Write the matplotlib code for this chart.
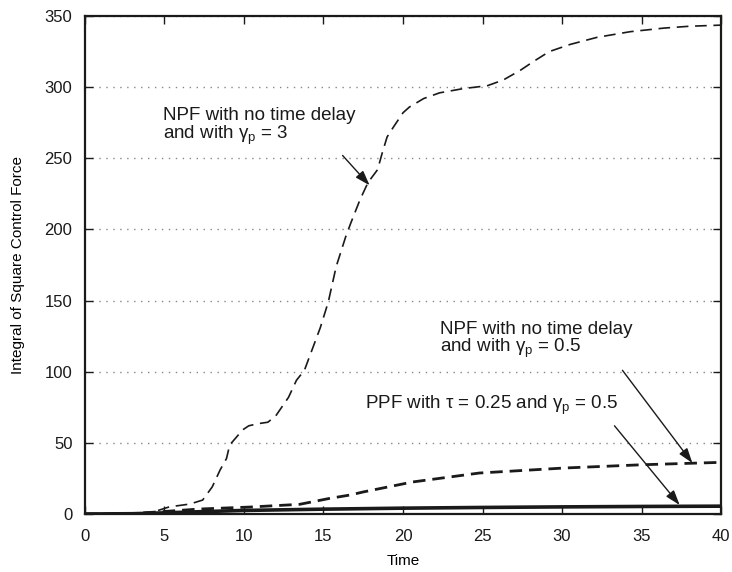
import numpy as np
import matplotlib
matplotlib.use('Agg')
import matplotlib.pyplot as plt

plt.rcParams['font.family'] = ['Liberation Sans', 'DejaVu Sans']
plt.rcParams['mathtext.fontset'] = 'custom'
plt.rcParams['mathtext.rm'] = 'Liberation Sans'
plt.rcParams['mathtext.it'] = 'Liberation Sans'

# NPF, no time delay, gamma_p = 3 (thin dashed)
t_npf3 = [0, 2, 3, 4.3, 5.3, 6.6, 7.4, 8.0, 8.5, 8.9, 9.1, 9.6, 9.9, 10.3, 10.9, 11.5,
          12.0, 12.8, 13.3, 13.8, 14.8, 15.3, 15.8, 16.4, 16.7, 17.3, 17.8, 18.4, 18.7,
          19.0, 19.4, 20.0, 20.4, 21.3, 22.3, 23.8, 25.3, 26.3, 27.4, 28.2, 29.2, 30.5,
          32.2, 34.3, 36.4, 38.0, 40.0]
v_npf3 = [0, 0, 0.2, 1.4, 5.0, 7.0, 9.8, 19, 31, 39, 48.5, 55, 59, 62, 63.5, 64.5,
          69, 82, 94, 101, 131, 149, 174, 195, 204, 221, 233, 242, 254,
          265, 272, 282, 286, 292, 296, 299, 301, 305, 312, 318, 325, 330,
          335, 339, 341.5, 342.8, 343.6]

# NPF, no time delay, gamma_p = 0.5 (thick dashed)
t_npf05 = [0, 2, 3, 4.5, 7.2, 10.4, 13.5, 15.4, 16.7, 17.5, 20.6, 24.8, 30.1, 35.0, 40.0]
v_npf05 = [0, 0, 0.3, 1.4, 3.5, 4.9, 6.8, 11.0, 13.4, 15.5, 22.5, 28.8, 32.3, 34.6, 36.3]

# PPF, tau = 0.25, gamma_p = 0.5 (solid)
t_ppf = [0, 3, 5, 7.5, 10, 15, 20, 25, 30, 35, 40]
v_ppf = [0, 0.2, 0.8, 1.7, 2.5, 3.4, 4.1, 4.6, 5.0, 5.3, 5.5]

xticks = [0, 5, 10, 15, 20, 25, 30, 35, 40]
yticks = [0, 50, 100, 150, 200, 250, 300, 350]

fig = plt.figure(figsize=(7.32, 5.72), dpi=100)
ax = fig.add_axes([0.1161, 0.1014, 0.985 - 0.1161, 0.972 - 0.1014])

ax.plot(t_npf3, v_npf3, color='#1a1a1a', lw=1.2, linestyle=(0, (7, 4)))
ax.plot(t_npf05, v_npf05, color='#1a1a1a', lw=2.0, linestyle=(0, (4.5, 2.5)))
ax.plot(t_ppf, v_ppf, color='#1a1a1a', lw=2.6, solid_capstyle='butt')

ax.set_xlim(0, 40)
ax.set_ylim(0, 350)
ax.set_xticks(xticks)
ax.set_yticks(yticks)
ax.tick_params(direction='in', length=6, width=1, top=True, right=True,
               labelsize=12, colors='#1a1a1a')
ax.tick_params(axis='x', pad=11)
ax.tick_params(axis='y', pad=9)
ax.yaxis.grid(True, linestyle=(0, (1, 4)), lw=1, color='#888888')
ax.set_axisbelow(True)
for s in ax.spines.values():
    s.set_linewidth(1.6)
    s.set_color('#1a1a1a')

ax.set_xlabel('Time', fontsize=11, labelpad=7)
ax.set_ylabel('Integral of Square Control Force', fontsize=11, labelpad=14)

arrow = dict(arrowstyle='-|>,head_length=0.9,head_width=0.3', lw=1.0, color='#1a1a1a',
             shrinkA=0, shrinkB=0)
fs = 13.5
ax.text(4.9, 272, 'NPF with no time delay\nand with $\\gamma_{\\mathrm{p}}$ = 3',
        fontsize=fs, va='center', ha='left', linespacing=0.95, color='#1a1a1a')
ax.annotate('', xy=(17.9, 231), xytext=(16.2, 252), arrowprops=arrow)

ax.text(22.3, 122, 'NPF with no time delay\nand with $\\gamma_{\\mathrm{p}}$ = 0.5',
        fontsize=fs, va='center', ha='left', linespacing=0.95, color='#1a1a1a')
ax.annotate('', xy=(38.2, 35.8), xytext=(33.8, 101), arrowprops=arrow)

ax.text(17.6, 76, 'PPF with $\\tau$ = 0.25 and $\\gamma_{\\mathrm{p}}$ = 0.5',
        fontsize=fs, va='center', ha='left', color='#1a1a1a')
ax.annotate('', xy=(37.4, 6.3), xytext=(33.3, 62), arrowprops=arrow)

fig.savefig('out.png', dpi=100)
